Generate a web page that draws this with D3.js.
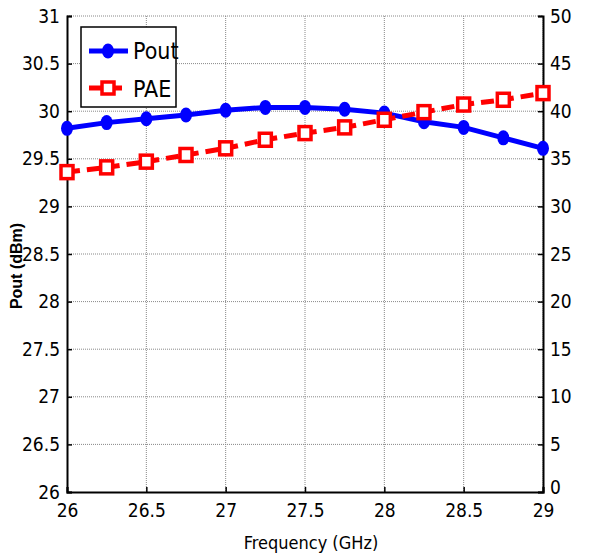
<!DOCTYPE html>
<html>
<head>
<meta charset="utf-8">
<script src="https://cdn.jsdelivr.net/npm/d3@7"></script>
<style>
  body { margin: 0; background: #fff; }
  svg text { font-family: "Liberation Sans Narrow", "DejaVu Sans Condensed", "Arial Narrow", sans-serif; font-stretch: condensed; fill: #000; }
</style>
</head>
<body>
<div id="chart"></div>
<script>
const freq = [26, 26.25, 26.5, 26.75, 27, 27.25, 27.5, 27.75, 28, 28.25, 28.5, 28.75, 29];
const pout = [29.82, 29.88, 29.92, 29.96, 30.01, 30.04, 30.04, 30.02, 29.98, 29.89, 29.83, 29.72, 29.61];
const pae = [33.6, 34.1, 34.7, 35.4, 36.1, 37.0, 37.7, 38.3, 39.1, 39.9, 40.7, 41.2, 41.9];
const xTicks = [26, 26.5, 27, 27.5, 28, 28.5, 29];
const yLeftTicks = [26, 26.5, 27, 27.5, 28, 28.5, 29, 29.5, 30, 30.5, 31];
const yRightTicks = [0, 5, 10, 15, 20, 25, 30, 35, 40, 45, 50];

const width = 594, height = 553;
const margin = { top: 16, right: 51, bottom: 61, left: 67 };
const iw = width - margin.left - margin.right;
const ih = height - margin.top - margin.bottom;

const svg = d3.select('#chart').append('svg')
    .attr('width', width)
    .attr('height', height);

const g = svg.append('g')
    .attr('transform', `translate(${margin.left},${margin.top})`);

const x = d3.scaleLinear().domain([26, 29]).range([0, iw]);
const yL = d3.scaleLinear().domain([26, 31]).range([ih, 0]);
const yR = d3.scaleLinear().domain([0, 50]).range([ih, 0]);

// grid
g.selectAll('.vgrid').data(xTicks.slice(1))
    .enter().append('line')
    .attr('x1', d => x(d)).attr('x2', d => x(d))
    .attr('y1', 0).attr('y2', ih)
    .attr('stroke', '#888').attr('stroke-width', 1)
    .attr('stroke-dasharray', '1,1');

g.selectAll('.hgrid').data(yLeftTicks.slice(1))
    .enter().append('line')
    .attr('x1', 0).attr('x2', iw)
    .attr('y1', d => yL(d)).attr('y2', d => yL(d))
    .attr('stroke', '#888').attr('stroke-width', 1)
    .attr('stroke-dasharray', '1,1');

// axes
const xAxis = g.append('g')
    .attr('transform', `translate(0,${ih})`)
    .call(d3.axisBottom(x).tickValues(xTicks).tickSize(-5).tickPadding(10).tickFormat(d3.format('')));

const yAxisL = g.append('g')
    .call(d3.axisLeft(yL).tickValues(yLeftTicks).tickSize(-5).tickPadding(7).tickFormat(d3.format('')));

const yAxisR = g.append('g')
    .attr('transform', `translate(${iw},0)`)
    .call(d3.axisRight(yR).tickValues(yRightTicks).tickSize(-5).tickPadding(7).tickFormat(d3.format('')));

[xAxis, yAxisL, yAxisR].forEach(a => {
    a.select('.domain').attr('stroke', '#000').attr('stroke-width', 2);
    a.selectAll('.tick line').attr('stroke', '#000').attr('stroke-width', 1.5);
    a.selectAll('.tick text').style('font-size', '19px');
});
xAxis.selectAll('.tick text').attr('dy', '0.8em');
yAxisR.selectAll('.tick text').filter(d => d === 0).attr('dy', '0.1em');

// lines
const poutLine = d3.line().x((d, i) => x(freq[i])).y(d => yL(d));
const paeLine = d3.line().x((d, i) => x(freq[i])).y(d => yR(d));

g.append('path')
    .datum(pout)
    .attr('d', poutLine)
    .attr('fill', 'none')
    .attr('stroke', '#0000ff')
    .attr('stroke-width', 5);

g.selectAll('.pout-pt').data(pout)
    .enter().append('ellipse')
    .attr('cx', (d, i) => x(freq[i]))
    .attr('cy', d => yL(d))
    .attr('rx', 6).attr('ry', 7.5)
    .attr('fill', '#0000ff');

g.append('path')
    .datum(pae)
    .attr('d', paeLine)
    .attr('fill', 'none')
    .attr('stroke', '#ff0000')
    .attr('stroke-width', 5)
    .attr('stroke-dasharray', '13,7');

g.selectAll('.pae-pt').data(pae)
    .enter().append('rect')
    .attr('x', (d, i) => x(freq[i]) - 6)
    .attr('y', d => yR(d) - 6.5)
    .attr('width', 12).attr('height', 13)
    .attr('fill', '#fff')
    .attr('stroke', '#ff0000')
    .attr('stroke-width', 3.5);

// legend
const lg = svg.append('g').attr('transform', 'translate(81,27)');
lg.append('rect')
    .attr('width', 95).attr('height', 80)
    .attr('fill', '#fff').attr('stroke', '#000').attr('stroke-width', 1.5);

lg.append('line').attr('x1', 8).attr('x2', 47).attr('y1', 24).attr('y2', 24)
    .attr('stroke', '#0000ff').attr('stroke-width', 5);
lg.append('ellipse').attr('cx', 27).attr('cy', 24).attr('rx', 6).attr('ry', 7.5).attr('fill', '#0000ff');
lg.append('text').attr('x', 52).attr('y', 32).style('font-size', '23px').text('Pout');

lg.append('line').attr('x1', 8).attr('x2', 47).attr('y1', 61).attr('y2', 61)
    .attr('stroke', '#ff0000').attr('stroke-width', 5).attr('stroke-dasharray', '13,7');
lg.append('rect').attr('x', 21).attr('y', 55).attr('width', 12).attr('height', 12)
    .attr('fill', '#fff').attr('stroke', '#ff0000').attr('stroke-width', 3.5);
lg.append('text').attr('x', 52).attr('y', 70).style('font-size', '23px').text('PAE');

// axis titles
svg.append('text')
    .attr('x', margin.left + iw / 2 + 6)
    .attr('y', 549)
    .attr('text-anchor', 'middle')
    .style('font-size', '18px')
    .text('Frequency (GHz)');

svg.append('text')
    .attr('transform', `translate(22,${margin.top + ih / 2 + 12}) rotate(-90)`)
    .attr('text-anchor', 'middle')
    .style('font-size', '16px')
    .style('font-weight', 'bold')
    .style('font-family', '"Liberation Sans", Arial, sans-serif')
    .style('font-stretch', 'normal')
    .text('Pout (dBm)');
</script>
</body>
</html>
